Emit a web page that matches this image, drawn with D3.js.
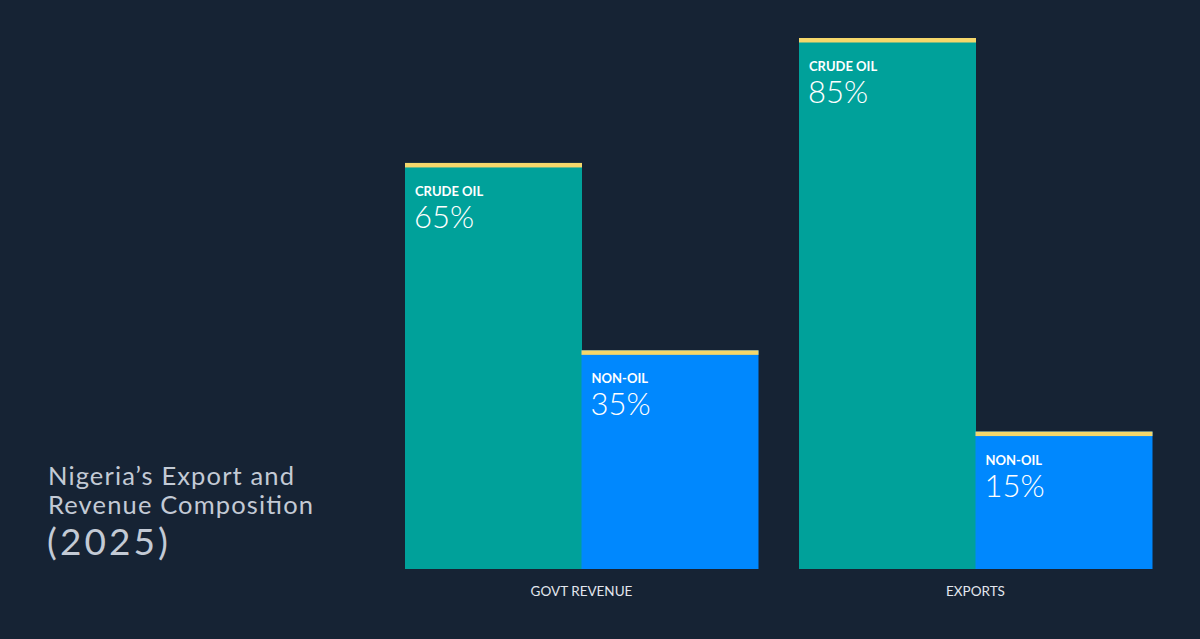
<!DOCTYPE html>
<html>
<head>
<meta charset="utf-8">
<script src="https://cdn.jsdelivr.net/npm/d3@7"></script>
<style>
  html, body { margin: 0; padding: 0; background: #162334; }
  svg { display: block; }
</style>
</head>
<body>
<svg id="chart" width="1200" height="639"></svg>
<script>
// ---- data ----
const categories = ["GOVT REVENUE", "EXPORTS"];
const series = ["CRUDE OIL", "NON-OIL"];
const barHeights = [[65, 35], [85, 22]];      // bar lengths as drawn
const labelValues = [[65, 35], [85, 15]];     // printed percentages
const titleLines = ["Nigeria’s Export and", "Revenue Composition"];
const titleYear = "(2025)";

const colors = { "CRUDE OIL": "#00a19a", "NON-OIL": "#0088fe" };
const capColor = "#f5d76b";

const svg = d3.select("#chart");
svg.append("rect").attr("width", 1200).attr("height", 639).attr("fill", "#162334");

const x0 = d3.scaleBand().domain(categories).range([405, 1152]).paddingInner(41 / 394).paddingOuter(0);
const x1 = d3.scaleBand().domain(series).range([0, x0.bandwidth()]).padding(0);
const y = d3.scaleLinear().domain([0, 85]).range([569, 38]);

const rows = [];
categories.forEach((c, i) => series.forEach((s, j) => rows.push({
  cat: c, ser: s, h: barHeights[i][j], lab: labelValues[i][j]
})));

const g = svg.append("g");
const bar = g.selectAll("g.bar").data(rows).join("g").attr("class", "bar")
  .attr("transform", d => `translate(${x0(d.cat) + x1(d.ser)},0)`);

bar.append("rect")
  .attr("x", 0).attr("width", x1.bandwidth() + 0.5)
  .attr("y", d => y(d.h)).attr("height", d => y(0) - y(d.h))
  .attr("fill", d => colors[d.ser]);

bar.append("rect")
  .attr("x", 0).attr("width", x1.bandwidth() + 0.5)
  .attr("y", d => y(d.h)).attr("height", 4.5)
  .attr("fill", capColor);

bar.append("text")
  .attr("x", 10).attr("y", d => y(d.h) + 33)
  .attr("fill", "#ffffff")
  .attr("font-family", "Lato, 'Open Sans', sans-serif")
  .attr("font-weight", 700).attr("font-size", 13)
  .text(d => d.ser);

bar.append("text")
  .attr("x", 9).attr("y", d => y(d.h) + 65)
  .attr("fill", "#ffffff")
  .attr("font-family", "Lato, 'Open Sans', sans-serif")
  .attr("font-weight", 300).attr("font-size", 31)
  .text(d => d.lab + "%");

// category axis
const axis = d3.axisBottom(x0).tickSize(0).tickPadding(0);
const ax = svg.append("g").attr("transform", "translate(0,569)").call(axis);
ax.select(".domain").remove();
ax.selectAll("text")
  .attr("y", 27).attr("dy", 0)
  .attr("fill", "#e3e7ee")
  .attr("font-family", "Lato, 'Open Sans', sans-serif")
  .attr("font-size", 13.5);

// title
const titleWidths = [246, 265];
const t = svg.append("text")
  .attr("fill", "#c3cad5")
  .attr("font-family", "Lato, 'Open Sans', sans-serif")
  .attr("font-weight", 400);
titleLines.forEach((line, i) => {
  t.append("tspan").attr("x", 48).attr("y", 485 + i * 29.3).attr("font-size", 25.5)
    .attr("textLength", titleWidths[i]).attr("lengthAdjust", "spacing").text(line);
});
t.append("tspan").attr("x", 47).attr("y", 555).attr("font-size", 37)
  .attr("textLength", 121).attr("lengthAdjust", "spacing").text(titleYear);
</script>
</body>
</html>
